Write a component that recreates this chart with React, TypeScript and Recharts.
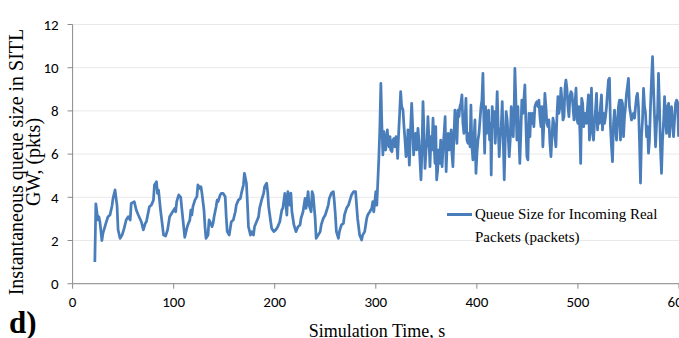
import { CartesianGrid, Label, Legend, Line, LineChart, XAxis, YAxis } from "recharts";

// queue size samples: [simulation time s, packets]
const warmup: [number, number][] = [
  [22, 1.0], [23, 3.7], [25, 2.95], [26, 3.1], [27, 2.87], [29, 2.0], [30, 2.33], [33, 2.8],
  [35, 3.1], [37, 3.18], [39, 3.6], [40, 3.95], [42, 4.34], [44, 3.6], [45, 2.5], [47, 2.1],
  [49, 2.25], [51, 2.56], [53, 2.95], [55, 3.1], [57, 2.95], [58, 3.72], [61, 3.8], [63, 3.41],
  [65, 3.18], [68, 2.87], [70, 2.49], [72, 2.8], [73, 2.87], [75, 3.33], [76, 3.56], [78, 3.64],
  [80, 3.87], [81, 4.57], [83, 4.72], [84, 4.18], [85, 4.34], [87, 3.41], [89, 2.64], [90, 2.25],
  [92, 2.21], [94, 2.49], [96, 3.1], [99, 3.33], [101, 3.48], [102, 3.33], [103, 3.8], [105, 4.11],
  [107, 4.0], [108, 3.5], [110, 2.6], [111, 2.15],
  [113, 2.56], [114, 2.72], [116, 2.95], [117, 3.41], [118, 3.18], [119, 3.56], [121, 3.87],
  [123, 4.03], [124, 4.57], [126, 4.41], [127, 4.49], [128, 4.18], [130, 3.41], [131, 2.64],
  [132, 2.1], [134, 2.25], [135, 2.95], [136, 2.87], [138, 2.64], [139, 2.8], [140, 3.1],
  [142, 3.56], [143, 3.87], [144, 3.8], [146, 4.11], [147, 4.18], [149, 4.18], [151, 4.03],
  [152, 3.1], [153, 2.41], [155, 2.25], [156, 2.56], [157, 2.87], [159, 2.95], [161, 3.33],
  [162, 3.64], [164, 3.87], [166, 3.95], [167, 4.18], [169, 4.57], [170, 5.11], [172, 4.65],
  [173, 3.72], [174, 2.64], [176, 2.25], [177, 2.41], [179, 2.25], [180, 2.64], [182, 2.87],
  [184, 3.1], [185, 3.49], [187, 3.87], [189, 4.18], [190, 4.49], [192, 4.65], [193, 4.26],
  [194, 3.56], [196, 2.87], [197, 2.56], [199, 2.41], [201, 2.49], [203, 2.64], [205, 2.87],
  [207, 3.41], [208, 3.49], [210, 4.18],
  [212, 3.18], [213, 4.26], [215, 3.64], [216, 4.19], [217, 3.33], [219, 2.72], [221, 2.41],
  [223, 2.64], [225, 2.72], [226, 3.02], [228, 3.33], [230, 3.95], [231, 3.49], [232, 3.8],
  [233, 4.26], [234, 3.64], [236, 3.33], [237, 4.26], [238, 4.11], [240, 3.02], [241, 2.1],
  [243, 2.25], [245, 2.41], [246, 2.72], [248, 3.02], [250, 3.18], [251, 3.33], [253, 3.64],
  [254, 3.95], [256, 4.19], [258, 4.26], [259, 3.8], [260, 3.18], [261, 2.41], [263, 2.1],
  [264, 2.41], [266, 2.72], [268, 2.79], [269, 3.18], [271, 3.49], [273, 3.64], [274, 3.8],
  [276, 4.11], [278, 4.26], [280, 4.26], [281, 3.64], [282, 3.02], [284, 2.25], [286, 2.02],
  [287, 2.25], [289, 2.41], [291, 3.02], [292, 3.18], [294, 3.33], [296, 3.49], [297, 3.8],
  [298, 3.33], [300, 4.26], [301, 3.64], [302, 4.72], [303, 5.8], [304, 7.19], [305, 9.27],
  [306, 7.35], [307, 5.96], [308, 7.04],
];

const loaded: [number, number][] = [
  [309.8, 6.19], [310.8, 6.81], [311.4, 7.12], [312.1, 6.65], [313.1, 6.34], [314.1, 6.81],
  [314.7, 6.19], [316.0, 6.11], [317.0, 6.65], [318.0, 6.73], [319.0, 6.34], [320.0, 6.81],
  [320.6, 6.65], [321.6, 5.8], [322.6, 6.96], [323.6, 7.89], [324.6, 8.89], [325.6, 8.2],
  [326.9, 8.04], [327.9, 7.27], [328.9, 6.65], [329.9, 5.88], [330.9, 6.04], [331.8, 7.12],
  [333.2, 5.49], [334.5, 7.27], [335.5, 8.35], [336.5, 7.27], [337.4, 5.96], [338.4, 6.65],
  [339.4, 6.96], [340.4, 6.19], [341.7, 7.19], [342.7, 6.65], [343.7, 5.73], [344.7, 4.81],
  [345.7, 6.19], [346.7, 8.43], [347.7, 6.96], [348.7, 5.34], [349.7, 6.19], [350.7, 6.65],
  [351.6, 7.73], [352.6, 6.65], [353.6, 5.42], [354.6, 6.81], [355.6, 6.19], [356.6, 7.66],
  [357.6, 6.5], [358.6, 5.57], [359.3, 7.27], [360.2, 4.81], [361.2, 5.26], [362.2, 6.19],
  [363.2, 5.57], [364.2, 6.65], [365.6, 5.42], [366.6, 6.34], [367.6, 6.96], [368.6, 7.73],
  [369.6, 5.19], [370.6, 6.5], [371.6, 6.96], [372.6, 6.19], [373.6, 6.65], [374.6, 7.12],
  [375.3, 6.04], [376.3, 5.42], [377.3, 6.81], [378.3, 8.04], [379.3, 7.27], [380.3, 6.5],
  [381.3, 8.04], [382.3, 7.73], [383.2, 8.2], [384.2, 8.35], [385.2, 8.74], [386.2, 7.42],
  [387.2, 6.96], [388.2, 7.42], [389.2, 8.58], [390.2, 6.65], [391.2, 6.5], [392.2, 6.96],
  [393.2, 6.34], [394.1, 8.27], [395.1, 6.34], [396.1, 5.73], [397.1, 6.65], [398.1, 7.58],
  [399.1, 5.11], [400.1, 6.04], [401.1, 6.65], [402.1, 6.96], [403.1, 7.58], [404.1, 8.2],
  [405.0, 8.5], [406.0, 9.74], [407.0, 7.42], [407.7, 6.04],
  [408.6, 8.2], [409.6, 6.96], [410.6, 7.58], [411.6, 8.04], [412.6, 6.65], [413.6, 7.42],
  [414.2, 5.03], [415.2, 8.2], [416.2, 7.27], [417.2, 7.97], [418.2, 6.5], [419.2, 7.58],
  [420.1, 8.89], [421.1, 7.27], [422.1, 5.88], [423.1, 6.81], [424.1, 7.27], [425.1, 8.43],
  [426.1, 6.65], [427.1, 4.81], [428.1, 6.65], [429.0, 7.97], [430.0, 7.58], [431.0, 6.81],
  [432.0, 5.88], [433.0, 6.65], [434.0, 8.2], [435.0, 7.12], [436.0, 6.81], [437.0, 8.35],
  [437.6, 9.97], [438.6, 8.5], [439.6, 6.65], [440.6, 8.2], [441.6, 6.81], [442.5, 5.57],
  [443.5, 6.96], [444.5, 8.5], [445.5, 7.89], [446.5, 8.5], [447.5, 9.2], [448.5, 7.42],
  [449.5, 5.88], [450.5, 5.73], [451.5, 7.89], [452.5, 6.81], [453.4, 7.89], [454.4, 7.42],
  [455.4, 7.89], [456.4, 7.27], [457.4, 8.2], [458.4, 8.35], [459.4, 8.43], [460.4, 8.2],
  [461.4, 8.5], [462.4, 7.73], [463.4, 7.27], [464.3, 8.2], [465.3, 6.34], [466.3, 7.42],
  [467.3, 8.81], [468.3, 8.2], [469.3, 7.42], [470.3, 7.27], [471.3, 7.58], [472.3, 6.5],
  [473.3, 5.88], [474.3, 6.81], [475.3, 7.66], [476.2, 7.42], [477.2, 6.81], [478.2, 6.34],
  [479.2, 7.73], [480.2, 8.66], [481.2, 7.89], [482.2, 8.2], [483.2, 9.05], [484.2, 8.5],
  [485.2, 7.58], [486.2, 7.73], [487.2, 9.05], [488.1, 9.43], [489.1, 9.05], [490.1, 8.2],
  [491.1, 7.73], [492.1, 8.66], [493.1, 8.89], [494.1, 8.81], [495.1, 8.2], [496.1, 7.58],
  [497.1, 8.35], [498.1, 9.05], [499.1, 7.58], [500.0, 7.42], [501.0, 8.2], [502.0, 6.96],
  [502.7, 5.57], [503.7, 8.58], [504.7, 8.35], [505.7, 7.27], [506.7, 7.89],
  [508.5, 7.42], [509.5, 8.2], [510.4, 8.74], [511.4, 6.65], [512.4, 7.89], [513.4, 9.05],
  [514.4, 6.96], [515.4, 6.65], [516.4, 7.42], [517.4, 8.04], [518.4, 8.81], [519.4, 7.12],
  [520.3, 7.89], [521.3, 7.42], [522.3, 8.2], [523.3, 8.74], [524.3, 7.12], [525.3, 7.89],
  [526.3, 7.42], [527.3, 7.73], [528.3, 8.2], [529.2, 8.81], [530.2, 9.43], [531.2, 9.51],
  [532.2, 7.27], [533.2, 6.34], [534.2, 5.65], [535.2, 7.42], [536.2, 8.04], [537.2, 7.27],
  [538.2, 6.65], [539.1, 7.42], [540.1, 8.2], [541.1, 8.5], [542.1, 6.65], [543.1, 8.5],
  [544.1, 8.35], [545.1, 6.81], [546.1, 7.73], [547.1, 8.2], [548.1, 8.81], [549.0, 9.12],
  [550.0, 9.51], [551.0, 8.2], [552.0, 7.89], [553.0, 7.58], [554.0, 7.73], [555.0, 7.89],
  [556.0, 7.66], [557.0, 8.2], [558.0, 8.66], [558.9, 8.81], [559.9, 8.2], [560.9, 6.65],
  [561.9, 4.66], [562.9, 6.81], [563.9, 7.58], [564.9, 9.04], [565.9, 8.2], [566.9, 7.89],
  [567.9, 6.81], [568.9, 7.27], [569.8, 6.04], [570.8, 6.65], [571.8, 8.2], [572.8, 9.43],
  [573.8, 10.51], [574.8, 9.05], [575.8, 7.73], [576.8, 6.34], [577.8, 7.42], [578.8, 7.89],
  [579.7, 9.74], [580.7, 8.2], [581.7, 6.19], [582.7, 5.11], [583.7, 6.65], [584.7, 7.42],
  [585.7, 8.66], [586.7, 7.73], [587.7, 6.96], [588.7, 8.2], [589.7, 8.35], [590.6, 6.81],
  [591.6, 7.73], [592.6, 8.2], [593.6, 7.42], [594.6, 6.81], [595.6, 7.58], [596.6, 8.35],
  [597.6, 8.5], [598.6, 8.4], [599.6, 6.8],
];

const xTicks = [0, 100, 200, 300, 400, 500, 600];
const yTicks = [0, 2, 4, 6, 8, 10, 12];

const data = [...warmup, ...loaded].map(([t, q]) => ({ t, q }));

const BLUE = "#4a7ebb";
const AXIS = "#8a8a8a";
const SERIF = '"Liberation Serif", "Times New Roman", serif';
const SANS = '"Liberation Sans Narrow", Carlito, "Liberation Sans", Arial, sans-serif';

function LegendBox() {
  return (
    <div style={{ display: "flex", alignItems: "flex-start", fontFamily: SERIF, fontSize: 15, lineHeight: "23px", color: "#000" }}>
      <svg width={28} height={23} style={{ flex: "none" }}>
        <line x1={0} y1={11.5} x2={25} y2={11.5} stroke={BLUE} strokeWidth={3} />
      </svg>
      <div style={{ whiteSpace: "nowrap" }}>
        Queue Size for Incoming Real
        <br />
        Packets (packets)
      </div>
    </div>
  );
}

export default function App() {
  return (
    <div style={{ position: "absolute", left: 0, top: 0, background: "#fff" }}>
      <LineChart width={679} height={338} data={data} margin={{ top: 24.5, right: 0, bottom: 0, left: 22.6 }}>
        <CartesianGrid stroke="#e9e9e9" vertical={false} />
        <XAxis
          type="number"
          dataKey="t"
          domain={[0, 600]}
          ticks={xTicks}
          interval={0}
          height={54.3}
          tick={{ fontSize: 15, fill: "#000", fontFamily: SANS }}
          tickSize={5}
          tickMargin={8}
          stroke={AXIS}
        >
          <Label
            content={() => (
              <g fontFamily={SERIF} fill="#000">
                <text x={377} y={337} textAnchor="middle" fontSize={18}>
                  Simulation Time, s
                </text>
                <text x={9} y={333} fontSize={31} fontWeight="bold">
                  d)
                </text>
              </g>
            )}
          />
        </XAxis>
        <YAxis
          domain={[0, 12]}
          ticks={yTicks}
          interval={0}
          width={50}
          tick={{ fontSize: 15, fill: "#000", fontFamily: SANS }}
          tickSize={5}
          tickMargin={9}
          stroke={AXIS}
        >
          <Label
            content={() => (
              <g fontFamily={SERIF} fontSize={20} fill="#000">
                <text x={23} y={162} transform="rotate(-90 23 162)" textAnchor="middle">
                  Instantaneous queue size in SITL
                </text>
                <text x={40} y={162} transform="rotate(-90 40 162)" textAnchor="middle">
                  GW, (pkts)
                </text>
              </g>
            )}
          />
        </YAxis>
        <Legend
          layout="horizontal"
          verticalAlign="middle"
          align="center"
          content={() => <LegendBox />}
          wrapperStyle={{ position: "absolute", left: 447, top: 203, width: "auto" }}
        />
        <Line
          type="linear"
          dataKey="q"
          name="Queue Size for Incoming Real Packets (packets)"
          stroke={BLUE}
          strokeWidth={2.75}
          strokeLinejoin="round"
          dot={false}
          isAnimationActive={false}
        />
      </LineChart>
    </div>
  );
}
